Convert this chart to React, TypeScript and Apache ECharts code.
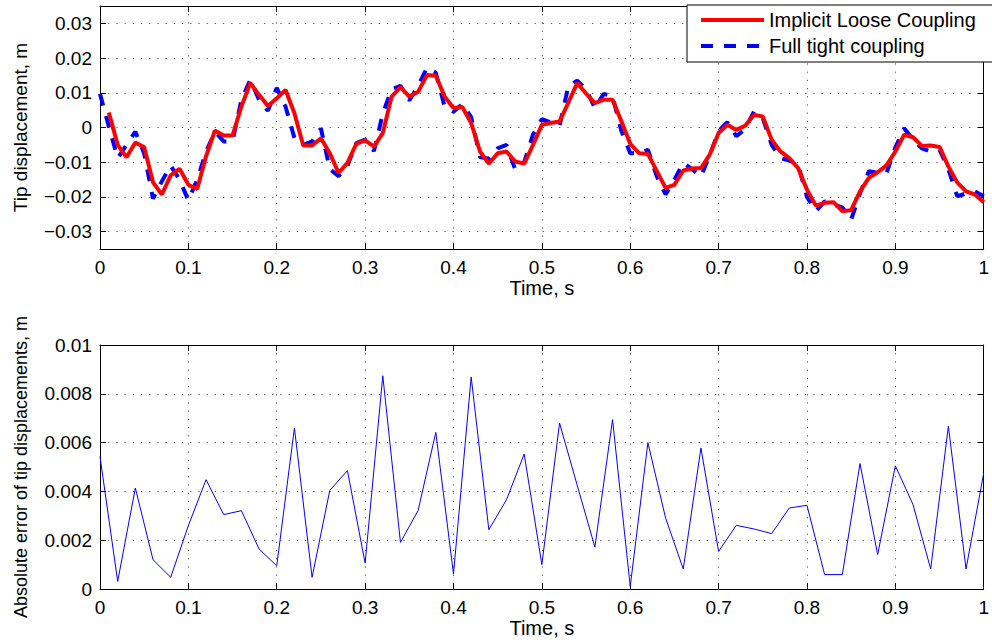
import React, { useEffect, useRef } from "react";
import * as echarts from "echarts";

// Sample spacing of the tip-displacement histories (s)
const dtTip = 0.01;
// Sample spacing of the absolute-error history (s)
const dtErr = 0.02;

// Implicit loose coupling, tip displacement (m), t = 0.01 ... 1.00
const looseCoupling = [
  0.0043, -0.005, -0.0086, -0.0043, -0.0057, -0.0158, -0.0193, -0.0138, -0.0119, -0.0165,
  -0.0177, -0.0083, -0.0009, -0.0023, -0.0023, 0.006, 0.0128, 0.0094, 0.0062, 0.0084,
  0.0108, 0.0041, -0.0052, -0.0052, -0.0031, -0.0074, -0.0131, -0.0102, -0.0047, -0.0037,
  -0.0055, -0.0016, 0.0089, 0.0116, 0.0089, 0.0103, 0.0151, 0.0149, 0.0089, 0.0056,
  0.0059, 0.0013, -0.0069, -0.0104, -0.0074, -0.0069, -0.0098, -0.0104, -0.005, 0.0008,
  0.0013, 0.0017, 0.0072, 0.0128, 0.0098, 0.007, 0.008, 0.008, 0.0018, -0.0047,
  -0.0074, -0.0076, -0.0125, -0.0174, -0.0165, -0.0124, -0.0118, -0.0117, -0.0078, -0.0016,
  0.0008, -0.0007, 0.0005, 0.0036, 0.0032, -0.0035, -0.0069, -0.0088, -0.0117, -0.0179,
  -0.0225, -0.0217, -0.0215, -0.0241, -0.0238, -0.0184, -0.0145, -0.0129, -0.0109, -0.0069,
  -0.0021, -0.0028, -0.0053, -0.0052, -0.0056, -0.0112, -0.0158, -0.0184, -0.0193, -0.0215,
];

// Full tight coupling, tip displacement (m), t = 0.00 ... 1.00
const tightCoupling = [
  0.0097, 0.0003, -0.0088, -0.005, -0.0012, -0.0075, -0.0205, -0.0155, -0.011, -0.015,
  -0.021, -0.015, -0.007, -0.0012, -0.004, -0.004, 0.008, 0.0137, 0.008, 0.0048,
  0.0114, 0.006, -0.003, -0.005, -0.004, -0.0003, -0.012, -0.014, -0.011, -0.0045,
  -0.0035, -0.0068, 0.004, 0.011, 0.012, 0.0078, 0.012, 0.0172, 0.0158, 0.006,
  0.0045, 0.0068, 0.003, -0.0085, -0.009, -0.006, -0.005, -0.0122, -0.01, -0.002,
  0.0024, 0.0015, 0.0005, 0.012, 0.0135, 0.011, 0.0056, 0.0097, 0.009, -0.001,
  -0.0074, -0.0075, -0.0064, -0.014, -0.0193, -0.015, -0.0102, -0.012, -0.0141, -0.008,
  -0.001, 0.0015, -0.0025, -0.0005, 0.0046, 0.0027, -0.005, -0.0088, -0.0095, -0.0107,
  -0.02, -0.0241, -0.0213, -0.0222, -0.023, -0.0265, -0.019, -0.0126, -0.013, -0.0131,
  -0.0058, -0.0002, -0.0035, -0.006, -0.0069, -0.0064, -0.012, -0.0198, -0.019, -0.0184,
  -0.0198,
];

// Absolute error of tip displacements (m), t = 0.00 ... 1.00
const absError = [
  0.00543, 0.00031, 0.00414, 0.0012, 0.00048, 0.0026, 0.00448, 0.00305, 0.00321, 0.00164,
  0.00095, 0.0066, 0.00048, 0.00404, 0.00485, 0.00106, 0.00874, 0.00191, 0.00322, 0.00642,
  0.00061, 0.00869, 0.00243, 0.00366, 0.00553, 0.001, 0.0068, 0.00425, 0.00172, 0.00694,
  0.0001, 0.006, 0.00291, 0.00082, 0.00578, 0.00154, 0.00261, 0.00246, 0.00227, 0.00332,
  0.00343, 0.00059, 0.00059, 0.00514, 0.00141, 0.00505, 0.00346, 0.00082, 0.00667, 0.00082,
  0.00475,
];

const tipTicks = [-0.03, -0.02, -0.01, 0, 0.01, 0.02, 0.03];
const seriesNames = ["Implicit Loose Coupling", "Full tight coupling"];
const xName = "Time, s";
const yNameTop = "Tip displacement, m";
const yNameBottom = "Absolute error of tip displacements, m";

const FONT = "'Liberation Sans', Arial, Helvetica, sans-serif";

const toPairs = (vals: number[], t0: number, dt: number) =>
  vals.map((v, i) => [+(t0 + i * dt).toFixed(4), v]);

const minus = (s: string) => s.replace("-", "\u2212");

export default function App() {
  const ref = useRef<HTMLDivElement>(null);

  useEffect(() => {
    if (!ref.current) return;
    const chart = echarts.init(ref.current, undefined, { renderer: "svg" });

    const gridLine = {
      show: true,
      lineStyle: { color: "#555", width: 1, type: [1.2, 7] as any },
    };
    const axisLine = { show: true, onZero: false, lineStyle: { color: "#000", width: 1 } };
    const tickIn = { show: true, inside: true, length: 6, lineStyle: { color: "#000" } };
    const tickLabel = { fontFamily: FONT, fontSize: 19, color: "#000" };

    const xMain = (gridIndex: number, gap: number) => ({
      type: "value",
      gridIndex,
      min: 0,
      max: 1,
      interval: 0.1,
      position: "bottom",
      axisLine,
      axisTick: tickIn,
      splitLine: gridLine,
      axisLabel: { ...tickLabel, margin: 9, formatter: (v: number) => String(+v.toFixed(1)) },
      name: xName,
      nameLocation: "middle",
      nameGap: gap,
      nameTextStyle: { fontFamily: FONT, fontSize: 20, color: "#000" },
    });
    const xTop = (gridIndex: number) => ({
      type: "value",
      gridIndex,
      min: 0,
      max: 1,
      interval: 0.1,
      position: "top",
      axisLine,
      axisTick: tickIn,
      splitLine: { show: false },
      axisLabel: { show: false },
    });

    const option: any = {
      animation: false,
      backgroundColor: "#fff",
      grid: [
        { left: 100, right: 6, top: 6, height: 243 },
        { left: 100, right: 6, top: 345, height: 244 },
      ],
      legend: {
        data: seriesNames,
        orient: "vertical",
        left: 687,
        top: 5,
        itemWidth: 63,
        itemHeight: 14,
        itemGap: 6,
        padding: [5, 19, 6, 12],
        borderColor: "#000",
        borderWidth: 1,
        backgroundColor: "#fff",
        // line-only keys: hide the marker symbol drawn on the legend line
        itemStyle: { opacity: 0 },
        lineStyle: { width: 4 },
        textStyle: { fontFamily: FONT, fontSize: 20, color: "#000", lineHeight: 20 },
        z: 10,
      },
      xAxis: [xMain(0, 29), xTop(0), xMain(1, 28), xTop(1)],
      yAxis: [
        {
          type: "value",
          gridIndex: 0,
          min: -0.035,
          max: 0.035,
          position: "left",
          axisLine,
          axisTick: { ...tickIn, customValues: tipTicks },
          splitLine: gridLine,
          axisLabel: {
            ...tickLabel,
            margin: 8,
            customValues: tipTicks,
            formatter: (v: number) => (Math.abs(v) < 1e-9 ? "0" : minus(v.toFixed(2))),
          },
          name: yNameTop,
          nameLocation: "middle",
          nameGap: 70,
          nameRotate: 90,
          nameTextStyle: { fontFamily: FONT, fontSize: 19, color: "#000" },
        },
        {
          type: "value",
          gridIndex: 0,
          min: -0.035,
          max: 0.035,
          position: "right",
          axisLine,
          axisTick: { ...tickIn, customValues: tipTicks },
          splitLine: { show: false },
          axisLabel: { show: false },
        },
        {
          type: "value",
          gridIndex: 1,
          min: 0,
          max: 0.01,
          interval: 0.002,
          position: "left",
          axisLine,
          axisTick: tickIn,
          splitLine: gridLine,
          axisLabel: {
            ...tickLabel,
            margin: 8,
            formatter: (v: number) => (Math.abs(v) < 1e-12 ? "0" : String(+v.toFixed(3))),
          },
          name: yNameBottom,
          nameLocation: "middle",
          nameGap: 70,
          nameRotate: 90,
          nameTextStyle: { fontFamily: FONT, fontSize: 18, color: "#000" },
        },
        {
          type: "value",
          gridIndex: 1,
          min: 0,
          max: 0.01,
          interval: 0.002,
          position: "right",
          axisLine,
          axisTick: tickIn,
          splitLine: { show: false },
          axisLabel: { show: false },
        },
      ],
      series: [
        {
          name: seriesNames[1],
          type: "line",
          xAxisIndex: 0,
          yAxisIndex: 0,
          data: toPairs(tightCoupling, 0, dtTip),
          symbol: "none",
          lineStyle: { color: "#0000ff", width: 4, type: [12, 11] },
          itemStyle: { color: "#0000ff" },
          z: 2,
        },
        {
          name: seriesNames[0],
          type: "line",
          xAxisIndex: 0,
          yAxisIndex: 0,
          data: toPairs(looseCoupling, dtTip, dtTip),
          symbol: "none",
          lineStyle: { color: "#ff0000", width: 4 },
          itemStyle: { color: "#ff0000" },
          z: 3,
        },
        {
          name: "Absolute error",
          type: "line",
          xAxisIndex: 2,
          yAxisIndex: 2,
          data: toPairs(absError, 0, dtErr),
          symbol: "none",
          lineStyle: { color: "#0000ff", width: 1 },
          itemStyle: { color: "#0000ff" },
        },
      ],
    };

    chart.setOption(option);
    return () => chart.dispose();
  }, []);

  return <div ref={ref} style={{ width: 992, height: 644, position: "absolute", left: 0, top: 0 }} />;
}
